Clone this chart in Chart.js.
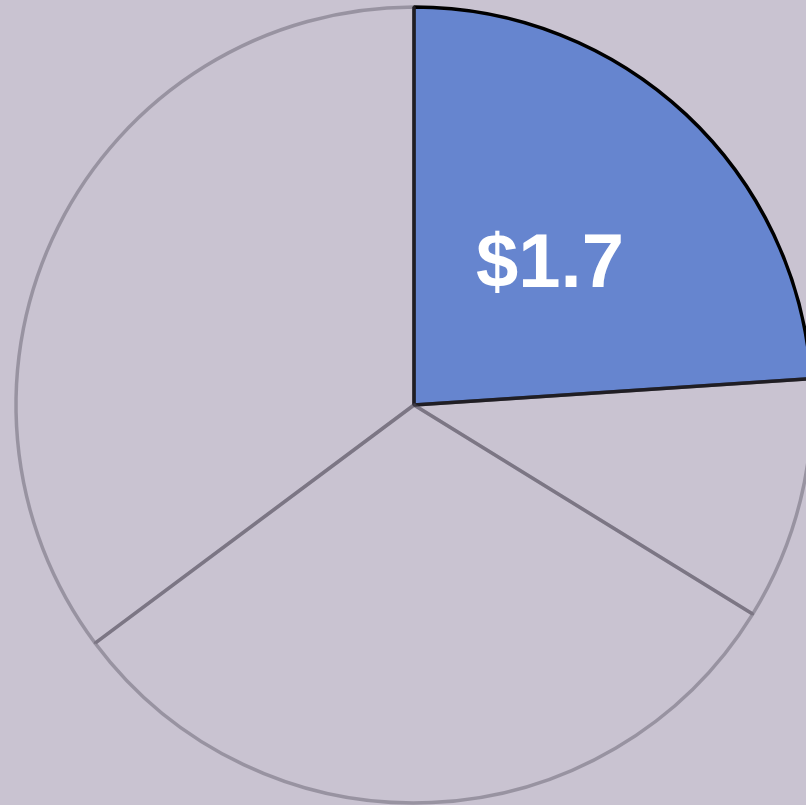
<!DOCTYPE html>
<html>
<head>
<meta charset="utf-8">
<script src="https://cdn.jsdelivr.net/npm/chart.js@4"></script>
<style>
  html, body { margin: 0; padding: 0; background: #c9c3d1; }
  #wrap { width: 806px; height: 805px; }
</style>
</head>
<body>
<div id="wrap"><canvas id="myChart"></canvas></div>
<script>
// datos del grafico
const categorias = ['A', 'B', 'C', 'D'];
const valores = [1.7, 0.7, 2.2, 2.5];
const etiquetas = ['$1.7', '', '', ''];

const colores = ['#6685cf', 'rgba(0,0,0,0)', 'rgba(0,0,0,0)', 'rgba(0,0,0,0)'];
const bordes = ['#000000', 'rgba(80,75,90,0.4)', 'rgba(80,75,90,0.4)', 'rgba(80,75,90,0.4)'];

// etiqueta dentro de la porcion
const pluginEtiquetas = {
    id: 'etiquetas',
    afterDatasetsDraw(chart) {
        const ctx = chart.ctx;
        const meta = chart.getDatasetMeta(0);
        meta.data.forEach((arco, i) => {
            if (!etiquetas[i]) return;
            const p = arco.getCenterPoint();
            ctx.save();
            ctx.fillStyle = '#ffffff';
            ctx.font = 'bold 76px "Liberation Sans", Arial, sans-serif';
            ctx.textAlign = 'center';
            ctx.textBaseline = 'middle';
            ctx.fillText(etiquetas[i], p.x, p.y + 6);
            ctx.restore();
        });
    }
};

const chartDOM = document.getElementById('myChart');
new Chart(chartDOM, {
    type: 'pie',
    data: {
        labels: categorias,
        datasets: [{
            data: valores,
            backgroundColor: colores,
            borderColor: bordes,
            borderWidth: 3.5,
            clip: false
        }]
    },
    options: {
        responsive: true,
        maintainAspectRatio: false,
        animation: false,
        radius: 398,
        layout: { padding: { left: 22, top: 5 } },
        plugins: {
            legend: { display: false },
            tooltip: { enabled: false }
        }
    },
    plugins: [pluginEtiquetas]
});
</script>
</body>
</html>
